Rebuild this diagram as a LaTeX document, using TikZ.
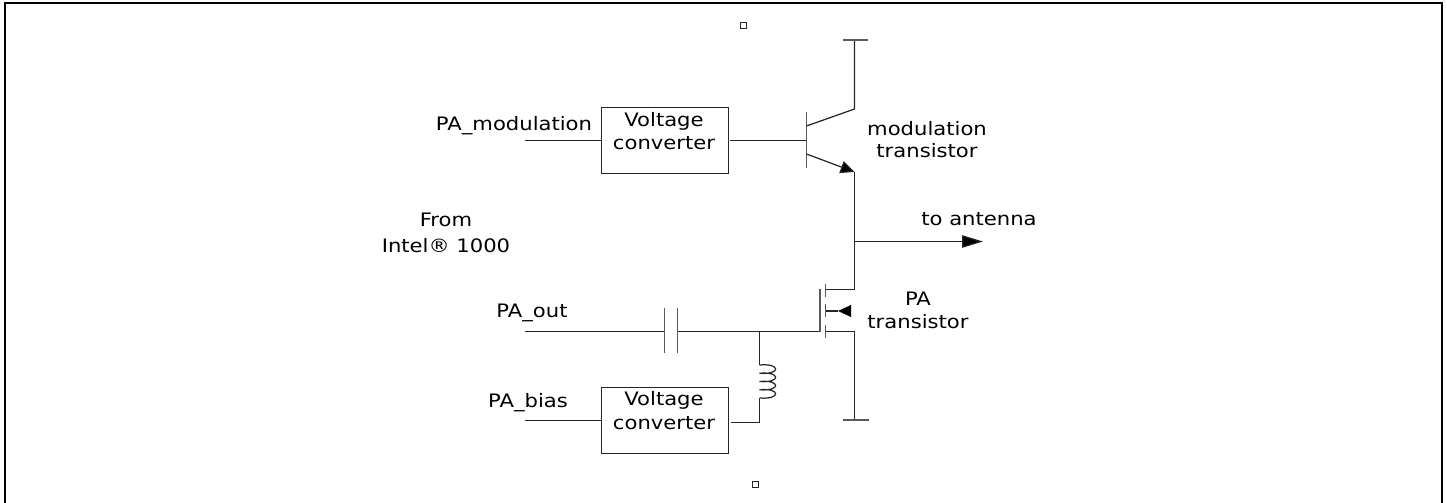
\documentclass[tikz,border=0pt]{standalone}
\usepackage{fontspec}
\setmainfont{DejaVu Sans}[FakeStretch=1.14]
\usetikzlibrary{arrows.meta}
\tikzset{
    wire/.style={line width=0.7pt, draw=black!85},
    plate/.style={line width=0.9pt, draw=black!65},
    conv/.style={draw=black!85, line width=0.7pt, minimum width=72.6pt, minimum height=38pt, inner sep=0pt},
    lbl/.style={inner sep=0pt, align=center, anchor=base, font=\fontsize{10.55}{#1}\selectfont},
    lbl/.default=13,
    tinybox/.style={draw=black!85, line width=0.5pt, minimum size=3.4pt, inner sep=0pt},
    tip/.style={-{Triangle[length=#1*0.567pt, width=12.5*0.567pt, fill=black]}}
}
\begin{document}
\begin{tikzpicture}[x=0.02cm,y=-0.02cm]
\useasboundingbox (0,0) rectangle (1447,503);
% frame, open at the bottom
\draw[line width=1.15pt] (5,503) -- (5,3.2) -- (1442,3.2) -- (1442,503);
\node[tinybox] (markTop) at (743,25) {};
\node[tinybox] (markBottom) at (755,484) {};

\node[conv] (convTop) at (665,140.5) {};
\node[conv] (convBottom) at (665,420.5) {};
\node[lbl=13.6] (textTop) at (664,150) {Voltage\\converter};
\node[lbl=13.2] (textBottom) at (664,429) {Voltage\\converter};

\node[lbl] (inMod) at (514,131) {PA\_modulation};
\node[lbl] (inOut) at (532,317) {PA\_out};
\node[lbl] (inBias) at (528,407) {PA\_bias};
\node[lbl=15.3] (from) at (446,253) {From\\Intel® 1000};
\node[lbl] (modName) at (927,158) {modulation\\transistor};
\node[lbl=12.6] (paName) at (918,328) {PA\\transistor};
\node[lbl] (antName) at (979,226) {to antenna};

% free ends and junctions
\coordinate (modIn) at (525,140.5);
\coordinate (outIn) at (525,331.5);
\coordinate (biasIn) at (525,420.5);
\coordinate (base) at (806.5,140.5);
\coordinate (coll) at (854.5,109);
\coordinate (emit) at (854.5,172);
\coordinate (drain) at (854.5,289.5);
\coordinate (source) at (854.5,331.5);
\coordinate (tap) at (854.5,241.5);
\coordinate (antenna) at (983,241.5);
\coordinate (vcc) at (854.5,40);
\coordinate (gnd) at (854.5,420);
\coordinate (capA) at (664.5,331.5);
\coordinate (capB) at (677.5,331.5);
\coordinate (gate) at (820,331.5);
\coordinate (lTop) at (759.5,331.5);
\coordinate (lA) at (759.5,365);
\coordinate (lB) at (759.5,398);
\coordinate (lEnd) at (759.5,422.5);

% top branch
\draw[wire] (modIn) -- (convTop.west |- modIn);
\draw[wire] (730,140.5) -- (base);
\draw[plate] (806.5,112) -- (806.5,168);
\draw[wire] (806.5,126) -- (coll) -- (vcc);
\draw[plate] (843,40) -- (868,40);
\draw[wire, tip=14] (806.5,154) -- (emit);
\draw[wire] (emit) -- (drain);
\draw[wire, tip=21] (tap) -- (antenna);

% PA stage
\draw[wire] (outIn) -- (capA);
\draw[wire] (capB) -- (gate);
\foreach \x in {664.5,677.5}
    \draw[plate] (\x,308) -- (\x,353);
\draw[plate] (820,289) -- (820,332);
\foreach \y in {284,304,325}
    \draw[plate] (825.5,\y) -- (825.5,\y+13);
\draw[wire] (826,289.5) -- (drain);
\draw[wire] (826,331.5) -- (source) -- (gnd);
\draw[plate] (843,420) -- (869,420);
\draw[wire] (826,311) -- (838,311);
\draw[fill=black, draw=none] (838,311) -- (851,305) -- (851,317) -- cycle;

% inductor and bias feed
\draw[wire] (lTop) -- (lA);
\draw[wire] (lA) \foreach \y in {365,373.25,381.5,389.75}
    {.. controls (781,\y-2) and (781,\y+10) .. (759.5,\y+8.25)};
\draw[wire] (lB) -- (lEnd) -- (731,422.5);
\draw[wire] (biasIn) -- (convBottom.west |- biasIn);
\end{tikzpicture}
\end{document}
